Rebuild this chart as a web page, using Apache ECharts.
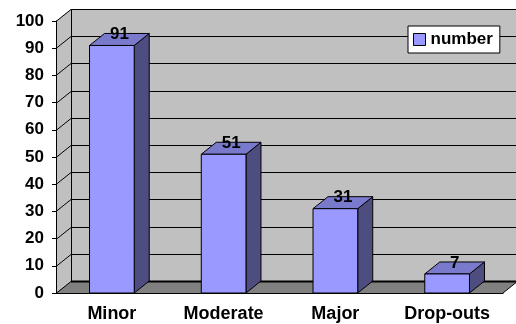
<!DOCTYPE html>
<html>
<head>
<meta charset="utf-8">
<script src="https://cdn.jsdelivr.net/npm/echarts@6/dist/echarts.min.js"></script>
<style>
  html, body { margin: 0; padding: 0; background: #fff; }
  #chart { width: 516px; height: 324px; }
</style>
</head>
<body>
<div id="chart"></div>
<script>
// Categories and values
const categories = ['Minor', 'Moderate', 'Major', 'Drop-outs'];
const numberValues = [91, 51, 31, 7];
const seriesName = 'number';

// Value axis range
const yMin = 0;
const yMax = 100;
const yStep = 10;

// 3D depth offset (pixels) and colours
const DEPTH_X = 15;
const DEPTH_Y = -12;
const WALL = '#C0C0C0';
const FLOOR = '#808080';
const BAR_FRONT = '#9999FF';
const BAR_TOP = '#7A7ACC';
const BAR_SIDE = '#4D4D80';
const FONT = '"Liberation Sans", Arial, sans-serif';

const chart = echarts.init(document.getElementById('chart'));

function wallsRender(params, api) {
  const cs = params.coordSys;
  const x0 = cs.x, x1 = cs.x + cs.width;
  const yBase = api.coord([0, yMin])[1];
  const yTop = api.coord([0, yMax])[1];
  const children = [];
  const line = { stroke: '#000', lineWidth: 1 };
  // back wall
  children.push({ type: 'rect', shape: { x: x0 + DEPTH_X, y: yTop + DEPTH_Y, width: x1 - x0 + 2, height: yBase - yTop },
    style: { fill: WALL } });
  // side wall
  children.push({ type: 'polygon', shape: { points: [[x0, yBase], [x0, yTop], [x0 + DEPTH_X, yTop + DEPTH_Y], [x0 + DEPTH_X, yBase + DEPTH_Y]] },
    style: { fill: WALL } });
  // floor
  children.push({ type: 'polygon', shape: { points: [[x0, yBase], [x1, yBase], [x1 + DEPTH_X, yBase + DEPTH_Y], [x0 + DEPTH_X, yBase + DEPTH_Y]] },
    style: { fill: FLOOR } });
  // grid lines on back wall and side wall
  for (let v = yMin; v <= yMax; v += yStep) {
    const y = Math.round(api.coord([0, v])[1]) + 0.5;
    children.push({ type: 'line', shape: { x1: x0 + DEPTH_X, y1: y + DEPTH_Y, x2: x1 + DEPTH_X + 2, y2: y + DEPTH_Y },
      style: Object.assign({}, line, { lineWidth: v === yMin ? 2 : 1 }) });
    children.push({ type: 'line', shape: { x1: x0, y1: y, x2: x0 + DEPTH_X, y2: y + DEPTH_Y }, style: line });
  }
  // back wall left edge
  children.push({ type: 'line', shape: { x1: x0 + DEPTH_X + 0.5, y1: yTop + DEPTH_Y, x2: x0 + DEPTH_X + 0.5, y2: yBase + DEPTH_Y }, style: line });
  // floor right edge
  children.push({ type: 'line', shape: { x1: x1, y1: yBase, x2: x1 + DEPTH_X, y2: yBase + DEPTH_Y }, style: line });
  return { type: 'group', children: children };
}

function barRender(params, api) {
  const idx = api.value(0);
  const val = api.value(1);
  const top = api.coord([idx, val]);
  const base = api.coord([idx, yMin]);
  const w = api.size([1, 0])[0] * 0.4;
  const xl = top[0] - w / 2, xr = top[0] + w / 2;
  const yv = top[1], yb = base[1];
  const stroke = { stroke: '#000', lineWidth: 1 };
  return {
    type: 'group',
    children: [
      { type: 'polygon', shape: { points: [[xr, yv], [xr + DEPTH_X, yv + DEPTH_Y], [xr + DEPTH_X, yb + DEPTH_Y], [xr, yb]] },
        style: Object.assign({ fill: BAR_SIDE }, stroke) },
      { type: 'polygon', shape: { points: [[xl, yv], [xr, yv], [xr + DEPTH_X, yv + DEPTH_Y], [xl + DEPTH_X, yv + DEPTH_Y]] },
        style: Object.assign({ fill: BAR_TOP }, stroke) },
      { type: 'rect', shape: { x: xl, y: yv, width: w, height: yb - yv },
        style: Object.assign({ fill: BAR_FRONT }, stroke) },
      { type: 'text', x: top[0] + DEPTH_X / 2, y: yv + DEPTH_Y / 2 - 5,
        style: { text: String(val), fill: '#000', font: 'bold 17px ' + FONT, align: 'center', verticalAlign: 'middle' } }
    ]
  };
}

chart.setOption({
  animation: false,
  backgroundColor: '#fff',
  grid: { left: 56, right: 13, top: 21, bottom: 31 },
  legend: {
    data: [seriesName],
    left: 408, top: 26,
    backgroundColor: '#fff',
    borderColor: '#000', borderWidth: 1,
    padding: [5, 7, 5, 5],
    itemWidth: 12, itemHeight: 12,
    icon: 'rect',
    itemStyle: { color: BAR_FRONT, borderColor: '#000', borderWidth: 1 },
    textStyle: { color: '#000', fontWeight: 'bold', fontSize: 17, fontFamily: FONT }
  },
  xAxis: {
    type: 'category',
    data: categories,
    axisLine: { lineStyle: { color: '#000', width: 1 } },
    axisTick: { length: 5, lineStyle: { color: '#000' } },
    axisLabel: { color: '#000', fontWeight: 'bold', fontSize: 18, fontFamily: FONT, margin: 12, interval: 0 },
    z: 5
  },
  yAxis: {
    type: 'value',
    min: yMin, max: yMax, interval: yStep,
    axisLine: { show: true, lineStyle: { color: '#000', width: 1 } },
    axisTick: { show: true, length: 4, lineStyle: { color: '#000' } },
    splitLine: { show: false },
    axisLabel: { color: '#000', fontWeight: 'bold', fontSize: 17, fontFamily: FONT, margin: 12 },
    z: 5
  },
  series: [
    {
      name: 'walls',
      type: 'custom',
      renderItem: wallsRender,
      data: [[0, 0]],
      silent: true,
      z: 1
    },
    {
      name: seriesName,
      type: 'custom',
      renderItem: barRender,
      itemStyle: { color: BAR_FRONT },
      data: numberValues.map((v, i) => [i, v]),
      z: 3
    }
  ]
});
</script>
</body>
</html>
